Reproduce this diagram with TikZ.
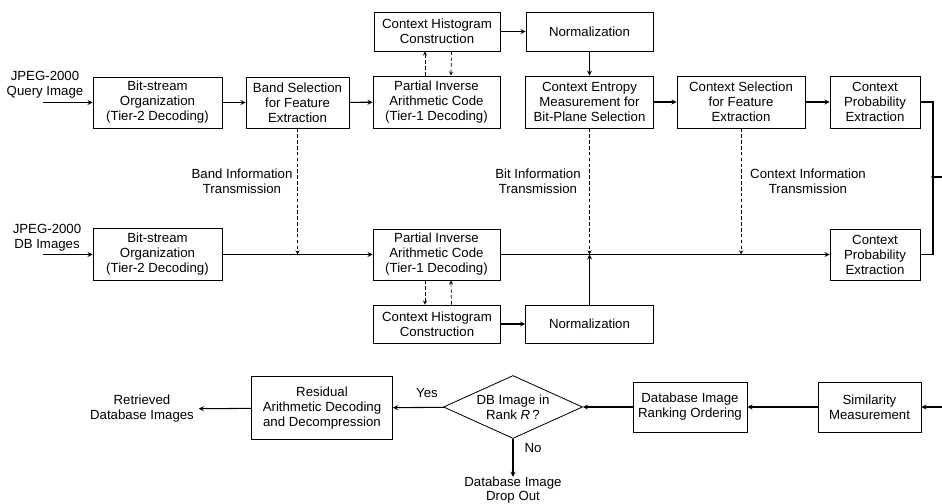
\documentclass[tikz,border=0pt]{standalone}
\usepackage{fontspec}
\setmainfont{Liberation Sans}
\usetikzlibrary{shapes.geometric}
\usetikzlibrary{arrows}

\begin{document}
\begin{tikzpicture}[
    x=0.03cm, y=-0.03cm,
    font=\fontsize{11.3}{12.8}\selectfont,
    block/.style={draw=black, line width=0.7pt, align=center, inner sep=1pt},
    lbl/.style={align=center, inner sep=0pt},
    flow/.style={-stealth, line width=0.9pt},
    info/.style={-stealth, line width=0.6pt, densely dashed},
  ]
  \useasboundingbox (0,0) rectangle (942,504);

  % query image path
  \node [lbl] (QLBL) at (45,85) {JPEG-2000\\Query Image};
  \coordinate (QIN) at (43,102.5);
  \node [block, minimum width=3.87cm, minimum height=1.53cm] (BSQ) at (157.5,102.5) {Bit-stream\\Organization\\(Tier-2 Decoding)};
  \node [block, minimum width=3.09cm, minimum height=1.53cm] (BAND) at (297.5,102.5) {Band Selection\\for Feature\\Extraction};
  \node [block, minimum width=3.81cm, minimum height=1.56cm] (PIACT) at (436.5,102) {Partial Inverse\\Arithmetic Code\\(Tier-1 Decoding)};
  \node [block, minimum width=3.78cm, minimum height=1.17cm] (HISTT) at (437,31.5) {Context Histogram\\Construction};
  \node [block, minimum width=3.81cm, minimum height=1.17cm] (NORMT) at (589.5,31.5) {Normalization};
  \node [block, minimum width=3.84cm, minimum height=1.56cm] (ENTR) at (589.5,102) {Context Entropy\\Measurement for\\Bit-Plane Selection};
  \node [block, minimum width=3.84cm, minimum height=1.56cm] (CSEL) at (741,102) {Context Selection\\for Feature\\Extraction};
  \node [block, minimum width=2.7cm, minimum height=1.56cm] (CPET) at (875,102) {Context\\Probability\\Extraction};

  % database image path
  \node [lbl] (DLBL) at (47,238) {JPEG-2000\\DB Images};
  \coordinate (DIN) at (43,254.5);
  \node [block, minimum width=3.87cm, minimum height=1.56cm] (BSD) at (157.5,254.5) {Bit-stream\\Organization\\(Tier-2 Decoding)};
  \node [block, minimum width=3.81cm, minimum height=1.53cm] (PIACB) at (436.5,254.5) {Partial Inverse\\Arithmetic Code\\(Tier-1 Decoding)};
  \node [block, minimum width=3.81cm, minimum height=1.14cm] (HISTB) at (437,324) {Context Histogram\\Construction};
  \node [block, minimum width=3.84cm, minimum height=1.14cm] (NORMB) at (589.5,324) {Normalization};
  \node [block, minimum width=2.7cm, minimum height=1.53cm] (CPEB) at (875,254.5) {Context\\Probability\\Extraction};

  \node [lbl] (BINFO) at (242,181) {Band Information\\Transmission};
  \node [lbl] (BITINFO) at (538,181) {Bit Information\\Transmission};
  \node [lbl] (CINFO) at (808,181) {Context Information\\Transmission};

  % retrieval path
  \node [block, minimum width=3.09cm, minimum height=1.5cm] (SIMIL) at (869.5,407) {Similarity\\Measurement};
  \node [block, minimum width=3.42cm, minimum height=1.5cm] (RANK) at (690,407) {Database Image\\Ranking Ordering};
  \node [draw=black, line width=0.7pt, diamond, align=center, inner sep=0pt, aspect=2.2, minimum width=4.17cm, minimum height=1.89cm] (RANKQ) at (513,407) {DB Image in\\Rank \textit{R}\,?};
  \node [block, minimum width=4.23cm, minimum height=1.89cm] (RESID) at (322,408) {Residual\\Arithmetic Decoding\\and Decompression};
  \node [lbl, inner xsep=4pt] (RETR) at (142,409) {Retrieved\\Database Images};
  \node [lbl, font=\fontsize{11.3}{11.6}\selectfont] (DROP) at (513,490) {Database Image\\Drop Out};
  \node [lbl] (YES) at (427,393) {Yes};
  \node [lbl] (NO) at (533,448) {No};

  \coordinate (JUNC) at (933,177);
  \coordinate (EDGET) at (942,177);
  \coordinate (EDGEB) at (942,407);

  \draw [flow] (QIN) -- (BSQ.west);
  \draw [flow] (BSQ) -- (BAND);
  \draw [flow] (BAND) -- (PIACT);
  \draw [info] ([xshift=-0.345cm]PIACT.north) -- ([xshift=-0.36cm]HISTT.south);
  \draw [info] ([xshift=0.435cm]HISTT.south) -- ([xshift=0.435cm]PIACT.north);
  \draw [flow] (HISTT) -- (NORMT);
  \draw [flow] (NORMT) -- (ENTR);
  \draw [flow] (ENTR) -- (CSEL);
  \draw [flow] (CSEL) -- (CPET);

  \draw [flow] (DIN) -- (BSD.west);
  \draw [flow] (BSD) -- (PIACB);
  \draw [info] ([xshift=-0.345cm]PIACB.south) -- ([xshift=-0.36cm]HISTB.north);
  \draw [info] ([xshift=0.435cm]HISTB.north) -- ([xshift=0.435cm]PIACB.south);
  \draw [flow] (HISTB) -- (NORMB);
  \draw [flow] (PIACB) -- (CPEB);

  \draw [info] (BAND.south) -- (BAND.south |- BSD.east);
  \draw [info] (ENTR.south) -- (ENTR.south |- PIACB.east);
  \draw [flow] (NORMB.north) -- (NORMB.north |- PIACB.east);
  \draw [info] (CSEL.south) -- (CSEL.south |- CPEB.west);

  \draw [line width=0.9pt] (CPET.east) -| (JUNC);
  \draw [line width=0.9pt] (CPEB.east) -| (JUNC);
  \draw [line width=0.9pt] (JUNC) -- (EDGET);
  \fill (JUNC) circle (1.6pt);

  \draw [flow] (EDGEB) -- (SIMIL.east);
  \draw [flow] (SIMIL) -- (RANK);
  \draw [flow] (RANK) -- (RANKQ);
  \draw [flow] (RANKQ) -- (RESID);
  \draw [flow] (RESID) -- (RETR);
  \draw [flow] (RANKQ) -- (DROP);

\end{tikzpicture}
\end{document}
